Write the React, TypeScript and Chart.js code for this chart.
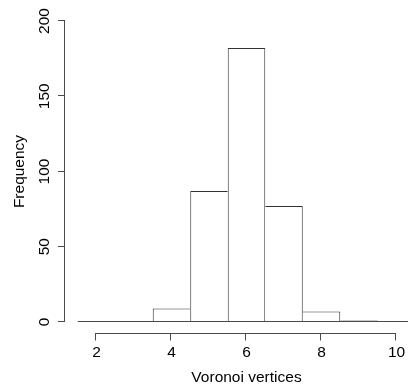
import React, { useEffect, useRef } from "react";
import { Chart, registerables } from "chart.js";

Chart.register(...registerables);

// Histogram bins (centres), counts and axis ticks
const binCenters = [2, 3, 4, 5, 6, 7, 8, 9, 10];
const counts = [0, 0, 9, 87, 182, 77, 7, 1, 0];
const xTicks = [2, 4, 6, 8, 10];
const yTicks = [0, 50, 100, 150, 200];
const xTitle = "Voronoi vertices";
const yTitle = "Frequency";

const FONT = "15.5px 'Liberation Sans', Arial, sans-serif";
const LINE = "#4a4a4a";
const BAR_LINE = "#333";

const axesPlugin = {
  id: "rAxes",
  afterDatasetsDraw(chart: any) {
    const { ctx, chartArea, scales } = chart;
    const xs = scales.x;
    const ys = scales.y;
    const crisp = (v: number) => Math.round(v) - 0.5;
    ctx.save();
    ctx.strokeStyle = LINE;
    ctx.lineWidth = 1;

    // baseline of histogram (bottom edges of all bins)
    const y0 = crisp(ys.getPixelForValue(0));
    const halfBin = 0.5;
    ctx.beginPath();
    ctx.moveTo(xs.getPixelForValue(binCenters[0] - halfBin), y0);
    ctx.lineTo(xs.getPixelForValue(binCenters[binCenters.length - 1] + halfBin), y0);
    ctx.stroke();

    // x axis (detached, at bottom of plot region)
    const xAxisY = Math.round(chartArea.bottom) - 0.5;
    const xFirst = Math.round(xs.getPixelForValue(xTicks[0])) - 1;
    const xLast = Math.round(xs.getPixelForValue(xTicks[xTicks.length - 1]));
    ctx.beginPath();
    ctx.moveTo(xFirst, xAxisY);
    ctx.lineTo(xLast, xAxisY);
    xTicks.forEach((t) => {
      const px = Math.round(xs.getPixelForValue(t)) - 0.5;
      ctx.moveTo(px, xAxisY);
      ctx.lineTo(px, xAxisY + 7);
    });
    ctx.stroke();

    // y axis
    const yAxisX = Math.round(chartArea.left) + 0.5;
    ctx.beginPath();
    ctx.moveTo(yAxisX, crisp(ys.getPixelForValue(yTicks[0])) + 0.5);
    ctx.lineTo(yAxisX, crisp(ys.getPixelForValue(yTicks[yTicks.length - 1])) - 0.5);
    yTicks.forEach((t) => {
      const py = crisp(ys.getPixelForValue(t));
      ctx.moveTo(yAxisX, py);
      ctx.lineTo(yAxisX - 6.5, py);
    });
    ctx.stroke();

    // labels
    ctx.fillStyle = "#000";
    ctx.font = FONT;
    ctx.textAlign = "center";
    ctx.textBaseline = "middle";
    xTicks.forEach((t) => {
      ctx.fillText(String(t), xs.getPixelForValue(t), 353);
    });
    yTicks.forEach((t) => {
      ctx.save();
      ctx.translate(45, ys.getPixelForValue(t));
      ctx.rotate(-Math.PI / 2);
      ctx.fillText(String(t), 0, 0);
      ctx.restore();
    });
    // titles (centred on the full R plot region, which extends past the crop)
    ctx.fillText(xTitle, xs.getPixelForValue(6), 378);
    ctx.save();
    ctx.translate(20, (chartArea.top + chartArea.bottom) / 2);
    ctx.rotate(-Math.PI / 2);
    ctx.fillText(yTitle, 0, 0);
    ctx.restore();
    ctx.restore();
  },
};

export default function App() {
  const ref = useRef<HTMLCanvasElement>(null);
  useEffect(() => {
    document.body.style.margin = "0";
    const canvas = ref.current!;
    const chart = new Chart(canvas, {
      type: "bar",
      data: {
        datasets: [
          {
            data: binCenters.map((x, i) => ({ x, y: counts[i] })),
            backgroundColor: "#ffffff",
            borderColor: BAR_LINE,
            borderSkipped: false,
            inflateAmount: 0,
            barPercentage: 1,
            categoryPercentage: 1,
            borderWidth: (c: any) => {
              const i = c.dataIndex;
              const v = counts[i] ?? 0;
              const prev = i > 0 ? counts[i - 1] : 0;
              const next = i < counts.length - 1 ? counts[i + 1] : 0;
              return { top: 1, bottom: 1, left: prev <= v ? 1 : 0, right: next < v ? 1 : 0 };
            },
          } as any,
        ],
      },
      options: {
        responsive: false,
        animation: false,
        events: [],
        layout: { padding: { left: 64.25, right: 0, top: 8.96, bottom: 55.96 } },
        plugins: { legend: { display: false }, tooltip: { enabled: false } },
        scales: {
          x: { type: "linear", min: 1.14, max: 10.3067, offset: false, display: false },
          y: { type: "linear", min: -8, max: 208, display: false },
        },
      },
      plugins: [axesPlugin],
    });
    return () => chart.destroy();
  }, []);
  return (
    <div style={{ width: 408, height: 390 }}>
      <canvas ref={ref} width={408} height={390} style={{ display: "block" }} />
    </div>
  );
}
